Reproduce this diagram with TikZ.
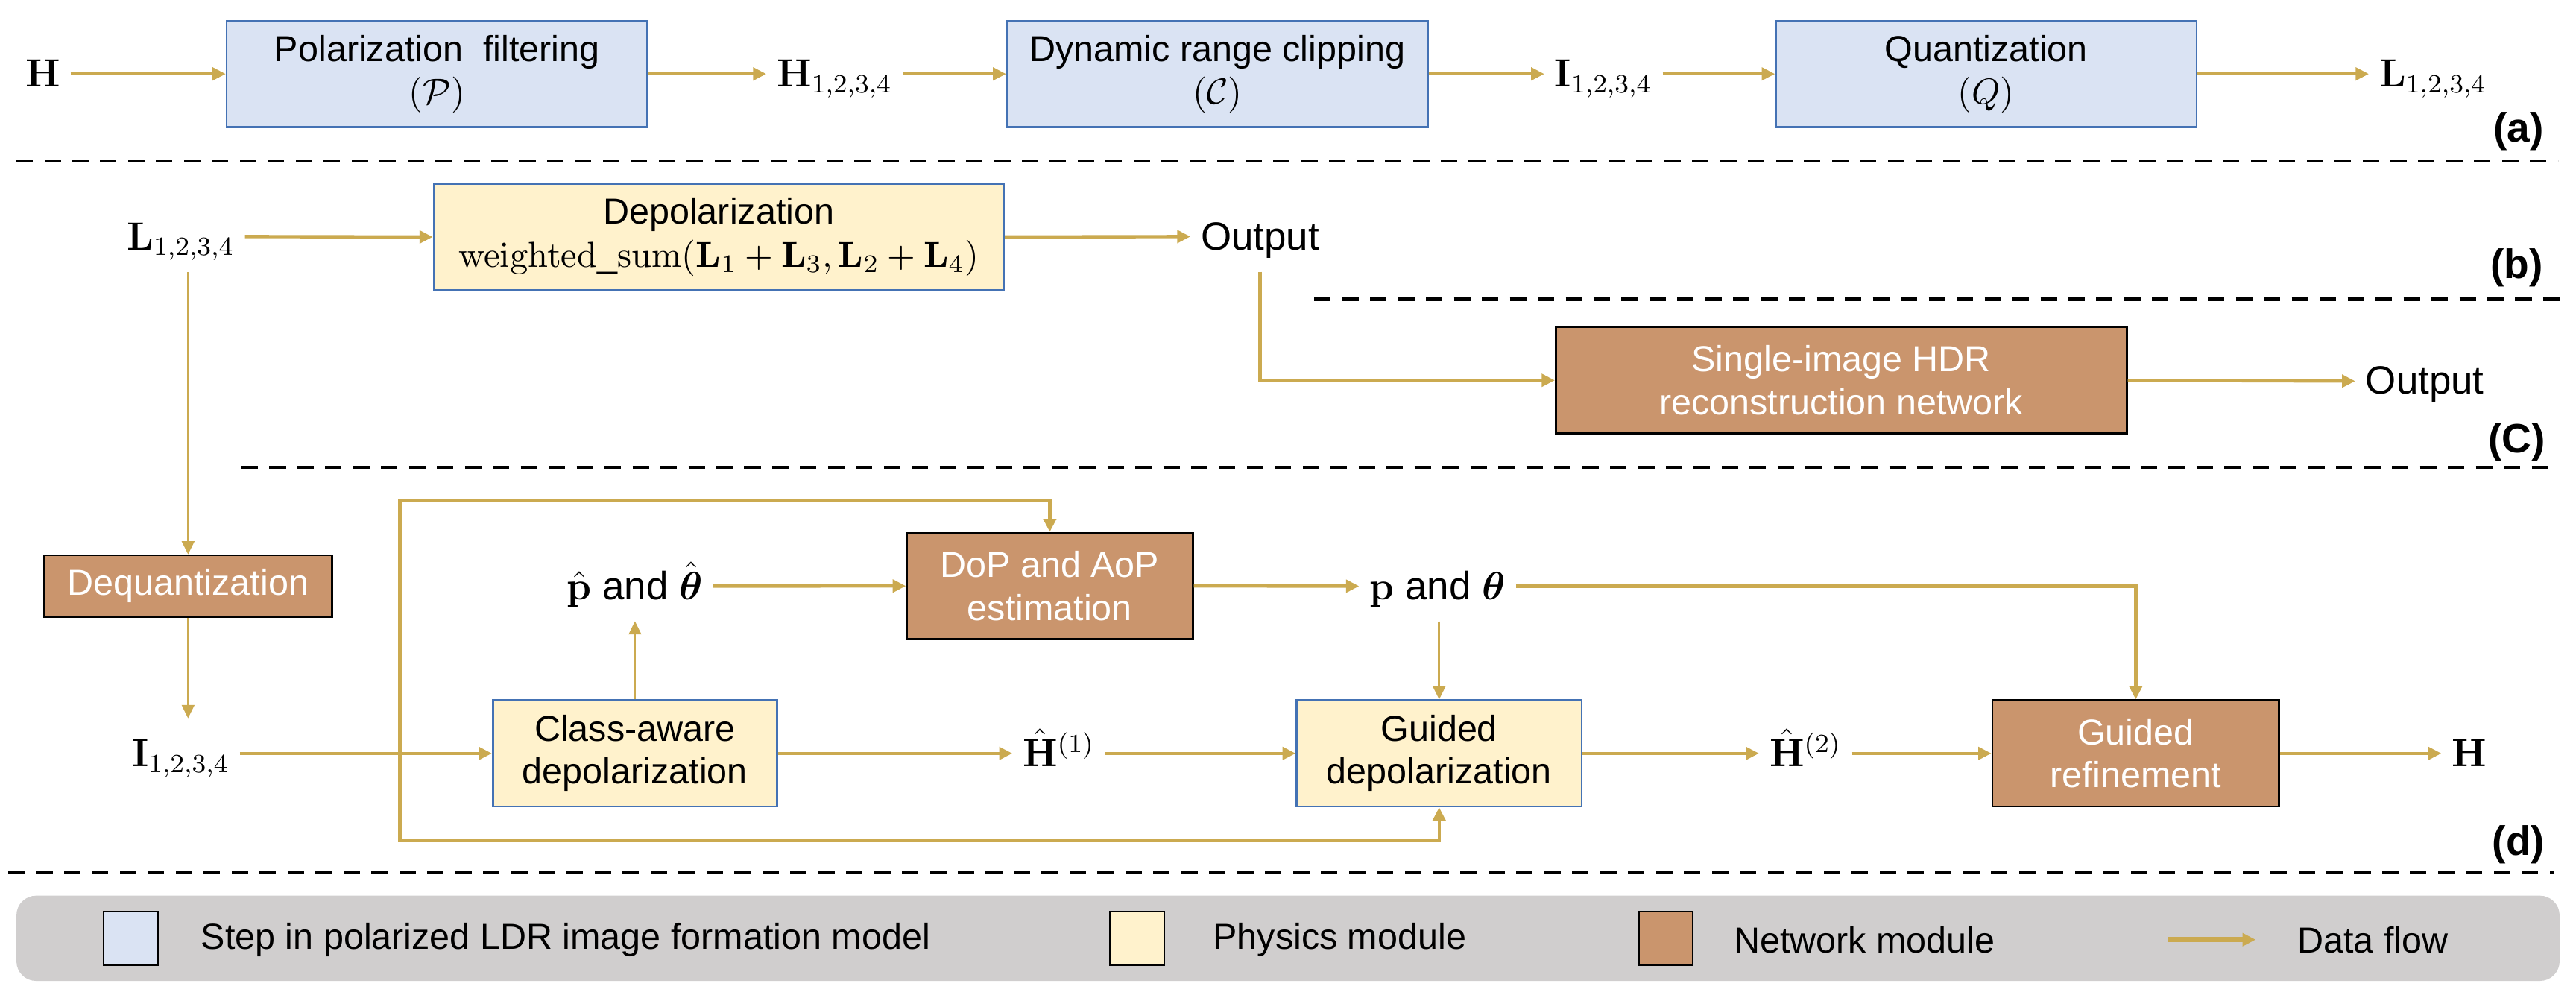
\documentclass[tikz,border=0pt]{standalone}
\usepackage{fix-cm}
\usepackage[no-math]{fontspec}
\usepackage{amsmath, amssymb, xcolor, tikz}
\setmainfont{Liberation Sans}
\usetikzlibrary{arrows.meta}

\definecolor{stepfill}{RGB}{218,227,243}
\definecolor{stepedge}{RGB}{68,114,180}
\definecolor{physfill}{RGB}{255,242,204}
\definecolor{netfill}{RGB}{202,149,109}
\definecolor{flowgold}{RGB}{203,170,80}
\definecolor{keygray}{RGB}{208,206,206}

\tikzset{
  formstep/.style={draw=stepedge, fill=stepfill, line width=0.6pt, minimum width=128pt, minimum height=32.25pt, align=center, inner sep=0pt, font=\fontsize{11}{13}\selectfont},
  physbox/.style={formstep, fill=physfill},
  netbox/.style={formstep, draw=black, fill=netfill, text=white},
  sym/.style={font=\fontsize{12}{14}\selectfont, text height=11.5pt, text depth=3.5pt, inner sep=3pt},
  flow/.style={draw=flowgold, line width=1pt, -{Triangle[length=4pt,width=3.8pt]}},
  thinflow/.style={flow, line width=0.6pt},
  sep/.style={line width=1.1pt, dash pattern=on 5pt off 3.5pt},
  tag/.style={font=\fontsize{12.5}{14}\selectfont\bfseries, inner sep=0pt},
  swatch/.style={draw=black, line width=0.5pt, minimum width=16.5pt, minimum height=16.5pt, inner sep=0pt},
  keytext/.style={font=\fontsize{11}{13}\selectfont, anchor=west, inner sep=0pt}
}

\begin{document}
\begin{tikzpicture}[x=0.5pt, y=0.5pt]
\useasboundingbox (0,0) rectangle (1568,-609);
\node[sym] (hin) at (26,-45) {$\mathbf{H}$};
\node[formstep] (pf) at (266,-45) {Polarization\ \ filtering\\$(\mathcal{P})$};
\node[sym] (h14) at (508,-45) {$\mathbf{H}_{1,2,3,4}$};
\node[formstep] (dc) at (741,-45) {Dynamic range clipping\\$(\mathcal{C})$};
\node[sym] (i14) at (976,-45) {$\mathbf{I}_{1,2,3,4}$};
\node[formstep] (qz) at (1209,-45) {Quantization\\$(Q)$};
\node[sym] (l14) at (1481,-45) {$\mathbf{L}_{1,2,3,4}$};
\draw[flow] (hin.east) -- (pf.west);
\draw[flow] (pf.east) -- (h14.west);
\draw[flow] (h14.east) -- (dc.west);
\draw[flow] (dc.east) -- (i14.west);
\draw[flow] (i14.east) -- (qz.west);
\draw[flow] (qz.east) -- (l14.west);

\node[sym] (l14b) at (110,-144) {$\mathbf{L}_{1,2,3,4}$};
\node[physbox, minimum width=173.5pt] (dp) at (437.5,-144.25) {Depolarization\\$\mathrm{weighted\_sum}(\mathbf{L}_1+\mathbf{L}_3,\mathbf{L}_2+\mathbf{L}_4)$};
\node[sym] (out1) at (767,-144) {Output};
\node[netbox, minimum width=173.75pt] (hdr) at (1120.75,-231.5) {Single-image HDR\\reconstruction network};
\node[sym] (out2) at (1476,-232) {Output};
\draw[flow] (l14b.east) -- (dp.west);
\draw[flow] (dp.east) -- (out1.west);
\draw[flow] (out1.south) |- (hdr.west);
\draw[flow] (hdr.east) -- (out2.west);

\node[netbox, minimum width=87.5pt, minimum height=18.8pt] (dq) at (114.5,-356.8) {Dequantization};
\node[sym] (i14d) at (110,-458.6) {$\mathbf{I}_{1,2,3,4}$};
\node[sym] (phat) at (386.5,-356.8) {$\hat{\mathbf{p}}$ and $\hat{\boldsymbol{\theta}}$};
\node[netbox, minimum width=87pt] (dop) at (639,-356.7) {DoP and AoP\\estimation};
\node[sym] (pth) at (875,-356.8) {$\mathbf{p}$ and $\boldsymbol{\theta}$};
\node[physbox, minimum width=86.5pt] (ca) at (386.5,-458.6) {Class-aware\\depolarization};
\node[sym] (h1) at (644.5,-458.6) {$\hat{\mathbf{H}}^{(1)}$};
\node[physbox, minimum width=86.75pt] (gd) at (876,-458.6) {Guided\\depolarization};
\node[sym] (h2) at (1099,-458.6) {$\hat{\mathbf{H}}^{(2)}$};
\node[netbox, minimum width=87.25pt] (gr) at (1300,-458.6) {Guided\\refinement};
\node[sym] (hout) at (1503,-458.6) {$\mathbf{H}$};
\coordinate (jn) at (243.5,-458.6);
\coordinate (lt) at (243.5,-304.6);
\coordinate (lb) at (243.5,-511.7);
\draw[thinflow] (dq.north |- l14b.south) -- (dq.north);
\draw[thinflow] (dq.south) -- (dq.south |- i14d.north);
\draw[flow] (i14d.east) -- (ca.west);
\draw[flow] (jn) -- (lt) -| (dop.north);
\draw[flow] (jn) -- (lb) -| (gd.south);
\draw[thinflow] (ca.north) -- (phat.south);
\draw[flow] (phat.east) -- (dop.west);
\draw[flow] (dop.east) -- (pth.west);
\draw[flow] (pth.east) -| (gr.north);
\draw[thinflow] (pth.south -| gd.north) -- (gd.north);
\draw[flow] (ca.east) -- (h1.west);
\draw[flow] (h1.east) -- (gd.west);
\draw[flow] (gd.east) -- (h2.west);
\draw[flow] (h2.east) -- (gr.west);
\draw[flow] (gr.east) -- (hout.west);

\node[tag] (ta) at (1533,-80) {(a)};
\node[tag] (tb) at (1532,-163) {(b)};
\node[tag] (tc) at (1532,-269) {(C)};
\node[tag] (td) at (1533,-514) {(d)};
\draw[sep] (10,-98) -- (1557,-98);
\draw[sep] (800,-182) -- (1558,-182);
\draw[sep] (147,-284.5) -- (1558,-284.5);
\draw[sep] (5,-530.8) -- (1555,-530.8);

\fill[keygray, rounded corners=6pt] (10,-545.2) rectangle (1558,-597.1);
\node[swatch, fill=stepfill] (k1) at (79.5,-571.2) {};
\node[keytext] (k1t) at (122,-572) {Step in polarized LDR image formation model};
\node[swatch, fill=physfill] (k2) at (692,-571.2) {};
\node[keytext] (k2t) at (738,-572) {Physics module};
\node[swatch, fill=netfill] (k3) at (1014,-571.2) {};
\node[keytext] (k3t) at (1055,-572) {Network module};
\coordinate (k4) at (1320,-572);
\coordinate (k4e) at (1373,-572);
\node[keytext] (k4t) at (1398,-572) {Data flow};
\draw[flow, line width=1.6pt] (k4) -- (k4e);
\end{tikzpicture}
\end{document}
